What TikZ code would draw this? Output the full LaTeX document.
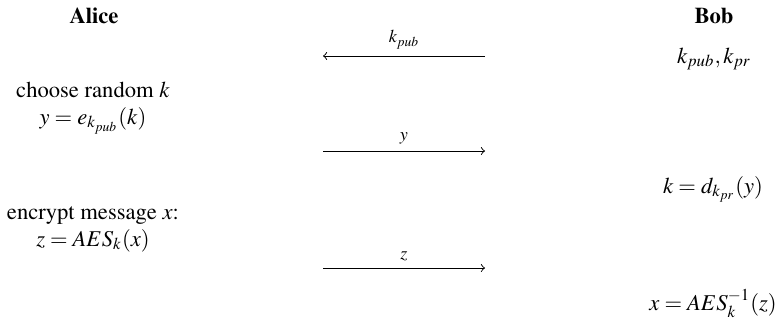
\documentclass[tikz,border=0pt]{standalone}
\usepackage[T1]{fontenc}
\usepackage{mathptmx}
\begin{document}
\begin{tikzpicture}[x=0.4425pt,y=-0.4425pt,
  party/.style={anchor=base,inner sep=0pt,font=\bfseries},
  txt/.style={anchor=base,inner sep=0pt},
  msg/.style={line width=0.4pt,->},
  msglabel/.style={above,inner sep=3pt,font=\footnotesize}]
\useasboundingbox (0,0) rectangle (778,324);
\node[party] (alice) at (94,23) {Alice};
\node[party] (bob) at (714,23) {Bob};
\node[txt] (bobkeys) at (714,63) {$k_{pub},k_{pr}$};
\node[txt] (choose) at (93,97) {choose random $k$};
\node[txt] (ency) at (93,124) {$y=e_{k_{pub}}(k)$};
\node[txt] (deck) at (713,193) {$k=d_{k_{pr}}(y)$};
\node[txt] (encmsg) at (93,219) {encrypt message $x$:};
\node[txt] (aes) at (93,246) {$z=AES_k(x)$};
\node[txt] (aesinv) at (713,310) {$x=AES_k^{-1}(z)$};
\coordinate (m1r) at (485,56);
\coordinate (m1l) at (323,56);
\coordinate (m2l) at (323,151);
\coordinate (m2r) at (485,151);
\coordinate (m3l) at (323,268);
\coordinate (m3r) at (485,268);
\draw[msg] (m1r) -- node[msglabel] (l1) {$k_{pub}$} (m1l);
\draw[msg] (m2l) -- node[msglabel] (l2) {$y$} (m2r);
\draw[msg] (m3l) -- node[msglabel] (l3) {$z$} (m3r);
\end{tikzpicture}
\end{document}
